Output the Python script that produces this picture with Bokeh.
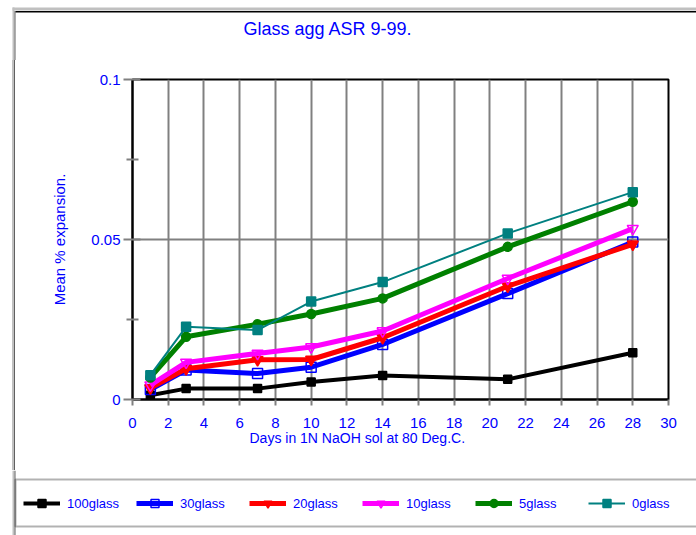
from bokeh.plotting import figure
from bokeh.layouts import column, row
from bokeh.models import (FixedTicker, CustomJSTickFormatter, BoxAnnotation, Legend,
                          LegendItem, Title, Range1d, Label, Div)
from bokeh.embed import file_html
from bokeh.resources import INLINE

# ---- data ----
days = [1, 3, 7, 10, 14, 21, 28]
glass_100 = [0.0013, 0.0034, 0.0034, 0.0055, 0.0075, 0.0063, 0.0146]
glass_30 = [0.0031, 0.0092, 0.0081, 0.0101, 0.0172, 0.0331, 0.0492]
glass_20 = [0.0036, 0.0096, 0.0124, 0.0125, 0.0193, 0.0354, 0.0485]
glass_10 = [0.0045, 0.0116, 0.0144, 0.0164, 0.0214, 0.0378, 0.0534]
glass_5 = [0.0069, 0.0196, 0.0235, 0.0267, 0.0316, 0.0477, 0.0618]
glass_0 = [0.0076, 0.0227, 0.0217, 0.0306, 0.0367, 0.0519, 0.0648]
series_labels = ["100glass", "30glass", "20glass", "10glass", "5glass", "0glass"]
x_ticks = list(range(0, 31, 2))
y_ticks = [0, 0.05, 0.1]
y_minor_ticks = [0.025, 0.075]
title_text = "Glass agg ASR 9-99."
x_label = "Days in 1N NaOH sol at 80 Deg.C."
y_label = "Mean % expansion."

FONT = "Liberation Sans"
BLUE_TXT = "#0000FF"
GRID = "#808080"
LIGHT = "#C0C0C0"
DARK = "#606060"

styles = [
    # colour, line width, marker, marker size, marker fill
    ("black", 4, "square", 8, "black"),
    ("#0000FF", 5, "square", 10, None),
    ("#FF0000", 5, "inverted_triangle", 11, "#FF0000"),
    ("#FF00FF", 5, "inverted_triangle", 11, None),
    ("#008000", 5, "circle", 9, "#008000"),
    ("#008080", 2, "square", 9, "#008080"),
]
all_series = [glass_100, glass_30, glass_20, glass_10, glass_5, glass_0]


def blank(width, height):
    f = figure(width=width, height=height, output_backend="svg", toolbar_location=None,
               x_range=Range1d(0, width), y_range=Range1d(height, 0),
               x_axis_location=None, y_axis_location=None,
               min_border=0, min_border_left=0, min_border_right=0,
               min_border_top=0, min_border_bottom=0)
    f.grid.visible = False
    f.outline_line_color = None
    f.background_fill_color = "white"
    f.border_fill_color = "white"
    return f


def band(f, l, r, t, b, color):
    f.add_layout(BoxAnnotation(left=l, right=r, top=t, bottom=b, fill_color=color,
                               fill_alpha=1, line_color=None, level="overlay"))


# ---- top strip: outer frame lines + title ----
top = blank(696, 60)
band(top, 12, 696, 7, 10, LIGHT)
band(top, 12, 14, 7, 60, LIGHT)
band(top, 14, 15, 10.5, 60, DARK)
band(top, 15, 696, 10.5, 12, "black")
top.add_layout(Label(x=327.5, y=28, text=title_text, text_align="center",
                     text_baseline="middle", text_font=FONT, text_font_size="18px",
                     text_color=BLUE_TXT))

# ---- left frame strip beside the chart ----
strip = Div(text='<div style="width:15px;height:410px;margin:0;padding:0;'
                 'background:linear-gradient(to right, #FFFFFF 0px, #FFFFFF 12px, '
                 '#C0C0C0 12px, #C0C0C0 14px, #606060 14px, #606060 15px);"></div>',
            width=15, height=410, margin=0)

# ---- chart ----
p = figure(width=681, height=410, output_backend="svg", toolbar_location=None,
           x_range=Range1d(0, 30), y_range=Range1d(0, 0.1),
           min_border_left=117, min_border_right=28, min_border_top=19,
           min_border_bottom=71)
p.outline_line_color = "black"
p.outline_line_width = 2
p.background_fill_color = "white"
p.border_fill_color = "white"

p.add_layout(Title(text=x_label, align="left", offset=117, standoff=-2,
                   vertical_align="top",
                   text_font=FONT, text_font_size="14px", text_font_style="normal",
                   text_color=BLUE_TXT), "below")

xa = p.xaxis[0]
xa.ticker = FixedTicker(ticks=x_ticks)
xa.axis_line_color = "black"
xa.axis_line_width = 2
xa.major_tick_line_color = GRID
xa.major_tick_line_width = 2
xa.major_tick_out = 6
xa.major_tick_in = 0
xa.minor_tick_line_color = None
xa.major_label_standoff = 12
xa.major_label_text_font = FONT
xa.major_label_text_font_size = "15px"
xa.major_label_text_color = BLUE_TXT

ya = p.yaxis[0]
ya.ticker = FixedTicker(ticks=y_ticks, minor_ticks=y_minor_ticks)
ya.formatter = CustomJSTickFormatter(code="return tick.toString();")
ya.axis_line_color = "black"
ya.axis_line_width = 2
ya.major_tick_line_color = GRID
ya.major_tick_line_width = 2
ya.major_tick_out = 9
ya.major_tick_in = 8
ya.minor_tick_line_color = GRID
ya.minor_tick_line_width = 2
ya.minor_tick_out = 6
ya.minor_tick_in = 6
ya.major_label_standoff = 3
ya.major_label_text_font = FONT
ya.major_label_text_font_size = "15px"
ya.major_label_text_color = BLUE_TXT
ya.axis_label = y_label
ya.axis_label_text_font = FONT
ya.axis_label_text_font_size = "15px"
ya.axis_label_text_font_style = "normal"
ya.axis_label_text_color = BLUE_TXT
ya.axis_label_standoff = 20

p.xgrid.ticker = FixedTicker(ticks=x_ticks)
p.xgrid.grid_line_color = GRID
p.xgrid.grid_line_width = 2
p.ygrid.ticker = FixedTicker(ticks=[0.05])
p.ygrid.grid_line_color = GRID
p.ygrid.grid_line_width = 2

for vals, (col, lw, mk, sz, fill) in zip(all_series, styles):
    p.line(days, vals, line_color=col, line_width=lw)
    p.scatter(days, vals, marker=mk, size=sz, line_color=col, line_width=1.5,
              fill_color=fill)

chart_row = row(strip, p, spacing=0)

# ---- legend strip ----
leg = blank(696, 65)
band(leg, 12, 14, 0, 65, LIGHT)
band(leg, 14, 15, 0, 65, DARK)
leg.add_layout(BoxAnnotation(left=15, right=720, top=9, bottom=56, fill_alpha=0,
                             line_color="black", line_width=2, level="overlay"))
items = []
for lab, vals, (col, lw, mk, sz, fill) in zip(series_labels, all_series, styles):
    # legend-only renderers (hidden); the legend draws their glyph samples
    r1 = leg.line(x=days[:1], y=vals[:1], line_color=col, line_width=lw, visible=False)
    r2 = leg.scatter(x=days[:1], y=vals[:1], marker=mk, size=sz, line_color=col,
                     line_width=1.5, fill_color=fill, visible=False)
    items.append(LegendItem(label=lab, renderers=[r1, r2]))
legend = Legend(items=items, orientation="horizontal", location=(23, 22),
                glyph_width=37, glyph_height=20, label_width=62, label_height=20,
                label_standoff=7, spacing=7, padding=0, margin=0,
                label_text_font=FONT, label_text_font_size="13px",
                label_text_color=BLUE_TXT, click_policy="none",
                border_line_alpha=0, background_fill_alpha=0)
leg.add_layout(legend, "center")

layout = column(top, chart_row, leg, spacing=0)
open("out.html", "w").write(file_html(layout, INLINE))
